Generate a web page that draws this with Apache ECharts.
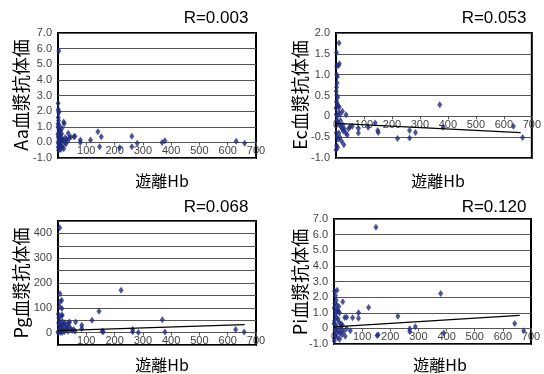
<!DOCTYPE html>
<html><head><meta charset="utf-8">
<script src="https://cdn.jsdelivr.net/npm/echarts@6/dist/echarts.min.js"></script>
<style>html,body{margin:0;padding:0;background:#fff}#c{width:544px;height:374px}</style>
</head><body><div id="c"></div>
<script>
// ---- data ----
var xTicks = [0,100,200,300,400,500,600,700];
var rLabels = ['R=0.003','R=0.053','R=0.068','R=0.120'];
var yNames = ['Aa血漿抗体価','Ec血漿抗体価','Pg血漿抗体価','Pi血漿抗体価'];
var xName = '遊離Hb';

var aaPoints = [[3,5.85],[0.5,2.5],[1,2.1],[2,2.0],[3,1.9],[1,1.6],[2,1.4],[0.5,1.2],[4,1.1],[1.5,0.95],[3,0.8],[5,0.7],[2,0.6],[6,0.5],[8,0.45],[10,0.3],[1,0.35],[3,0.2],[5,0.1],[7,0.05],[12,0.15],[15,0.2],[18,0.1],[20,1.3],[22,1.2],[14,0.9],[9,0.75],[25,0.3],[30,0.2],[28,-0.1],[12,-0.2],[8,-0.3],[4,-0.4],[2,-0.5],[6,-0.1],[16,-0.3],[20,-0.4],[24,0.0],[35,0.1],[36,0.58],[40,0.3],[45,0.35],[56,0.36],[60,0.4],[1,-0.3],[3,-0.1],[0,0.0],[0,0.5],[10,-0.45],[0,1.0],[13,0.55],[79,0.15],[79,0.0],[115,0.15],[141,0.68],[153,0.36],[147,-0.28],[218,-0.35],[261,0.4],[261,-0.28],[280,-0.05],[368,0.0],[378,0.1],[630,0.08],[660,-0.05]];
var ecPoints = [[11,1.76],[2,1.53],[12,1.26],[9,1.22],[2,1.2],[3,1.0],[5,0.95],[4,0.8],[2,0.7],[1,0.6],[3,0.5],[6,0.45],[2,0.35],[4,0.3],[8,0.25],[12,0.22],[10,0.1],[1,0.05],[5,0.0],[15,0.05],[3,-0.1],[7,-0.15],[12,-0.2],[18,-0.25],[22,-0.3],[26,-0.35],[30,-0.3],[35,-0.4],[40,-0.45],[1,-0.4],[4,-0.5],[8,-0.55],[14,-0.5],[20,-0.6],[2,-0.7],[6,-0.75],[28,-0.68],[10,-0.4],[16,-0.1],[24,-0.2],[45,-0.3],[50,-0.25],[0,-0.8],[0,0.2],[23,0.12],[36,0.04],[58,-0.24],[80,-0.29],[80,-0.4],[115,-0.26],[140,-0.16],[151,-0.39],[149,-0.34],[220,-0.53],[263,-0.34],[263,-0.52],[284,-0.39],[371,0.28],[383,-0.26],[634,-0.24],[667,-0.51]];
var pgPoints = [[6,423],[7,157],[8,124],[6,103],[13,130],[14,97],[15,70],[12,69],[1,75],[3,60],[5,50],[2,40],[8,35],[4,30],[10,25],[15,30],[20,35],[25,40],[30,20],[12,15],[6,10],[2,5],[18,8],[22,3],[28,10],[35,5],[40,25],[45,15],[50,8],[55,12],[0,0],[3,2],[9,1],[14,0],[32,30],[38,40],[16,45],[24,18],[60,5],[41,43],[62,43],[84,30],[84,17],[120,50],[145,86],[160,3],[156,5],[223,171],[264,13],[264,3],[284,0],[369,52],[378,2],[628,13],[658,2]];
var piPoints = [[2,2.4],[11,2.44],[5,2.1],[8,1.8],[3,1.6],[10,1.5],[1,1.3],[6,1.1],[12,1.2],[15,1.1],[20,1.0],[4,0.9],[9,0.7],[2,0.5],[14,0.6],[18,0.4],[25,0.3],[30,0.2],[7,0.2],[11,0.0],[3,-0.1],[16,-0.2],[22,-0.3],[28,-0.4],[35,-0.2],[40,-0.5],[5,-0.5],[13,-0.6],[20,-0.7],[1,-0.8],[8,-0.3],[24,0.1],[31,1.7],[0,0.3],[17,1.4],[27,-0.1],[45,0.0],[38,0.7],[58,-0.15],[45,0.72],[66,0.68],[87,1.0],[87,0.65],[123,1.34],[149,6.48],[153,-0.45],[157,-0.4],[227,0.78],[269,-0.2],[269,-0.03],[289,0.1],[379,2.23],[390,-0.3],[642,0.32],[674,-0.15]];

var ecTrend = [[0,-0.17],[660,-0.39]];
var pgTrend = [[0,8],[660,32]];
var piTrend = [[0,0.1],[660,0.83]];

var yMins = [-1,-1,-50,-1];
var yMaxs = [7,2,450,7];
var ySteps = [1,0.5,50,1];

// ---- layout ----
var grids = [
  {left:58, top:33, width:198, height:125},
  {left:336, top:33, width:196, height:125},
  {left:58, top:221, width:198, height:124},
  {left:334, top:219, width:197, height:125}
];
var rPos = [[216,18],[494,18],[216,207],[494,207]];
var yNamePos = [[21,95],[300,95],[21,283],[300,282]];
var xNamePos = [[162,181],[438,181],[162,365],[440,365]];
var showX0 = [false,true,false,true];

var navy = '#1f2b7e';
var labelFont = 'Liberation Sans, Arial, sans-serif';

function yFmt(i){
  return function(v){
    if(i===2){ return (v>=0 && v%100===0) ? String(v) : ''; }
    if(i===1 || i===3){ if(v===0) return '0'; }
    return v.toFixed(1);
  };
}

var xAxes=[], yAxes=[], series=[], graphic=[];
for (var i=0;i<4;i++){
  grids[i].show = true;
  grids[i].borderColor = '#000';
  grids[i].borderWidth = 2;
  // place x axis on the y=0 line of its grid
  var zeroOffset = -grids[i].height * (0 - yMins[i]) / (yMaxs[i] - yMins[i]);
  xAxes.push({
    gridIndex:i, type:'value', min:xTicks[0], max:xTicks[xTicks.length-1], interval:100,
    position:'bottom', offset:zeroOffset,
    axisLine:{show:true,onZero:false,lineStyle:{color:'#555',width:1}},
    axisTick:{show:true,length:3,lineStyle:{color:'#555'}},
    axisLabel:{color:'#444',fontSize:11,fontFamily:labelFont,margin:3,showMinLabel:showX0[i],showMaxLabel:true},
    splitLine:{show:false}
  });
  yAxes.push({
    gridIndex:i, type:'value', min:yMins[i], max:yMaxs[i], interval:ySteps[i],
    axisLine:{show:false}, axisTick:{show:false},
    axisLabel:{color:'#444',fontSize:11,fontFamily:labelFont,margin:6,formatter:yFmt(i)},
    splitLine:{show:true,lineStyle:{color:'#555'}}
  });
  graphic.push({type:'text',x:rPos[i][0],y:rPos[i][1],style:{text:rLabels[i],fill:'#000',font:'17px Liberation Sans, Arial, sans-serif',textAlign:'center',textVerticalAlign:'middle'}});
  graphic.push({type:'text',x:yNamePos[i][0],y:yNamePos[i][1],rotation:Math.PI/2,style:{text:yNames[i],fill:'#000',font:'18px Noto Sans CJK JP, sans-serif',textAlign:'center',textVerticalAlign:'middle'}});
  graphic.push({type:'text',x:xNamePos[i][0],y:xNamePos[i][1],style:{text:xName,fill:'#000',font:'16px Noto Sans CJK JP, sans-serif',textAlign:'center',textVerticalAlign:'middle'}});
}
var pts = [aaPoints, ecPoints, pgPoints, piPoints];
for (var j=0;j<4;j++){
  series.push({type:'scatter',xAxisIndex:j,yAxisIndex:j,data:pts[j],symbol:'diamond',symbolSize:[5,7],itemStyle:{color:navy},z:3});
}
var trends = [null, ecTrend, pgTrend, piTrend];
for (var k=1;k<4;k++){
  series.push({type:'line',xAxisIndex:k,yAxisIndex:k,data:trends[k],showSymbol:false,symbol:'none',lineStyle:{color:'#000',width:1.3},z:4});
}

var chart = echarts.init(document.getElementById('c'));
chart.setOption({animation:false,grid:grids,xAxis:xAxes,yAxis:yAxes,series:series,graphic:graphic});
</script></body></html>
